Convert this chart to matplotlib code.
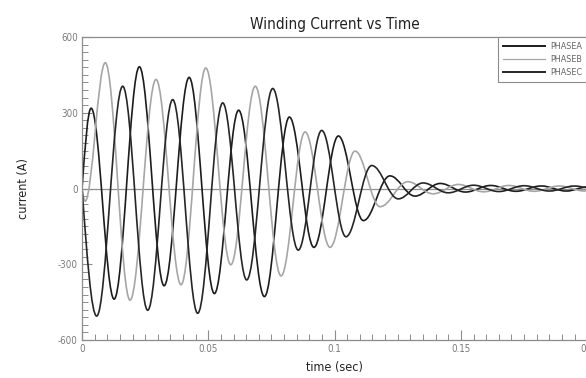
import numpy as np
import matplotlib
matplotlib.use("Agg")
import matplotlib.pyplot as plt
from matplotlib.path import Path
from matplotlib.patches import PathPatch
from matplotlib.lines import Line2D

# extrema: (time in s, current in A)
phaseA_t = [0.0, 0.0036, 0.0127, 0.0227, 0.0325, 0.0424, 0.0524, 0.0620, 0.0722,
            0.0821, 0.0918, 0.1015, 0.1114, 0.1219, 0.1318, 0.1418, 0.1518,
            0.1618, 0.1718, 0.1818, 0.1918, 0.2000]
phaseA_v = [0, 318, -438, 482, -385, 440, -416, 310, -428,
            283, -233, 208, -127, 50, -30, 20, -14,
            12, -11, 10, -10, 6]

phaseB_t = [0.0, 0.0012, 0.0092, 0.0190, 0.0293, 0.0392, 0.0490, 0.0589, 0.0686,
            0.0788, 0.0883, 0.0982, 0.1081, 0.1180, 0.1290, 0.1390, 0.1490,
            0.1590, 0.1690, 0.1790, 0.1890, 0.1990, 0.2000]
phaseB_v = [0, -50, 498, -442, 432, -381, 477, -302, 405,
            -346, 224, -233, 148, -72, 27, -21, 16,
            -13, 12, -11, 10, -10, -9]

phaseC_t = [0.0, 0.0058, 0.0161, 0.0260, 0.0359, 0.0458, 0.0557, 0.0652, 0.0755,
            0.0856, 0.0949, 0.1045, 0.1147, 0.1252, 0.1350, 0.1450, 0.1550,
            0.1650, 0.1750, 0.1850, 0.1950, 0.2000]
phaseC_v = [0, -505, 405, -482, 352, -494, 339, -362, 396,
            -244, 230, -191, 91, -41, 22, -17, 13,
            -12, 11, -10, 10, 4]

labels = ["PHASEA", "PHASEB", "PHASEC"]
colors = ["#1c1c1c", "#a6a6a6", "#262626"]

plt.rcParams["axes.unicode_minus"] = False
plt.rcParams["font.family"] = ["DejaVu Sans"]
plt.rcParams["font.stretch"] = "condensed"


def wave_path(ts, vs):
    # smooth curve through the extrema, flat at each peak
    verts = [(ts[0], vs[0])]
    codes = [Path.MOVETO]
    for i in range(1, len(ts)):
        t0, v0 = ts[i - 1], vs[i - 1]
        t1, v1 = ts[i], vs[i]
        dt = t1 - t0
        if i == 1:
            c1 = (t0 + dt / 3, v0 + (v1 - v0) * 0.5236)
        else:
            c1 = (t0 + dt * 0.364, v0)
        c2 = (t1 - dt * 0.364, v1)
        verts += [c1, c2, (t1, v1)]
        codes += [Path.CURVE4] * 3
    return Path(verts, codes)


fig = plt.figure(figsize=(5.86, 3.78), dpi=100)
ax = fig.add_axes([0.14, 0.1005, 0.862, 0.8016])

ax.axhline(0, color="#909090", lw=0.9, zorder=1)

for ts, vs, c in zip([phaseA_t, phaseB_t, phaseC_t],
                     [phaseA_v, phaseB_v, phaseC_v], colors):
    ax.add_patch(PathPatch(wave_path(ts, vs), fill=False, edgecolor=c,
                           lw=1.2, zorder=2))

ax.set_xlim(0, 0.2)
ax.set_ylim(-600, 600)
ax.set_xticks([0, 0.05, 0.1, 0.15, 0.2])
ax.set_xticklabels(["0", "0.05", "0.1", "0.15", "0.2"])
ax.set_xticks(np.arange(0, 0.2001, 0.005), minor=True)
ax.set_yticks([-600, -300, 0, 300, 600])
ax.set_yticks(np.arange(-600, 601, 30), minor=True)

for s in ax.spines.values():
    s.set_color("#8c8c8c")
    s.set_linewidth(0.9)
ax.spines["right"].set_visible(False)

ax.tick_params(which="both", direction="in", colors="#8c8c8c",
               labelcolor="#7a7a7a", labelsize=7, top=False, right=False)
ax.tick_params(which="major", length=7, width=0.8, pad=3)
ax.tick_params(which="minor", length=4, width=0.7)

ax.set_title("Winding Current vs Time", fontsize=11, color="#222222", pad=6)
ax.set_xlabel("time (sec)", fontsize=9, color="#222222", labelpad=5)
ax.set_ylabel("current (A)", fontsize=9, color="#222222", labelpad=20)

handles = [Line2D([], [], color=c, lw=lw) for c, lw in zip(colors, [1.4, 0.9, 1.4])]
leg = ax.legend(handles, labels, loc="upper right", fontsize=6.5,
                borderaxespad=0, handlelength=4.6, labelspacing=0.45,
                handletextpad=0.6, fancybox=False, framealpha=1,
                borderpad=0.55)
leg.get_frame().set_edgecolor("#8c8c8c")
leg.get_frame().set_linewidth(0.8)
for t in leg.get_texts():
    t.set_color("#666666")

fig.savefig("out.png", dpi=100)
